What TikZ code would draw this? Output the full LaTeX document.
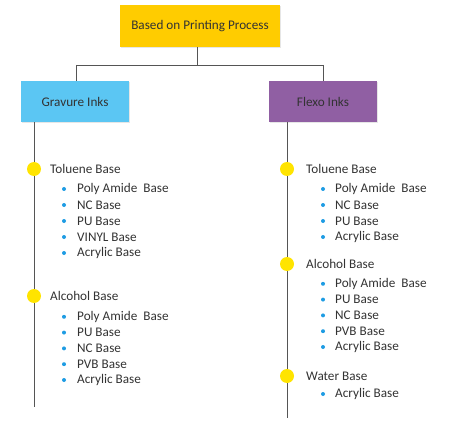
\documentclass[tikz,border=0pt]{standalone}
\usepackage{fontspec}
\setmainfont{Carlito}
\usepackage{xcolor}
\usetikzlibrary{positioning, shadows}

\definecolor{rootyellow}{HTML}{FFCC00}
\definecolor{gravblue}{HTML}{5BC6F3}
\definecolor{flexopurple}{HTML}{905FA3}
\definecolor{dotyellow}{HTML}{FFE400}
\definecolor{bulletblue}{HTML}{1E9CE3}
\definecolor{linegray}{HTML}{555555}
\definecolor{inkgray}{HTML}{333333}

\begin{document}
\begin{tikzpicture}[x=1pt, y=-1pt, font=\fontsize{13.2}{15}\selectfont,
  box/.style={minimum width=108pt, minimum height=41pt, inner sep=0pt, text=inkgray,
    drop shadow={opacity=0.2, shadow xshift=1pt, shadow yshift=-1pt}},
  link/.style={draw=linegray, line width=0.9pt},
  bigdot/.style={circle, fill=dotyellow, minimum size=14pt, inner sep=0pt},
  smalldot/.style={circle, fill=bulletblue, minimum size=4pt, inner sep=0pt},
  entry/.style={anchor=west, inner sep=0pt, text=inkgray}]
  \useasboundingbox (0,0) rectangle (450,425);

  % boxes
  \node[box, fill=rootyellow, minimum width=160pt, minimum height=42pt] (root) at (200,26) {Based on Printing Process};
  \node[box, fill=gravblue] (grav) at (75,101.5) {Gravure Inks};
  \node[box, fill=flexopurple] (flexo) at (323,101.5) {Flexo Inks};

  % tree connectors
  \coordinate (hub) at (197,65);
  \coordinate (gl) at (76,65);  \coordinate (fl) at (323,65);
  \draw[link] (root.south -| hub) -- (hub);
  \draw[link] (gl) -- (fl);
  \draw[link] (gl) -- (grav.north -| gl);
  \draw[link] (fl) -- (flexo.north);

  % timelines
  \coordinate (gend) at (34,407);
  \coordinate (fend) at (287,418);
  \draw[link] (grav.south -| gend) -- (gend);
  \draw[link] (flexo.south -| fend) -- (fend);

  % gravure column
  \node[bigdot] (gtol) at (34,169) {};
  \node[entry] (gtolt) at (50,169) {Toluene Base};
  \foreach \t [count=\i] in {Poly Amide\ \ Base, NC Base, PU Base, VINYL Base, Acrylic Base} {
    \node[smalldot] (gtb\i) at (64,173+16*\i) {};
    \node[entry] (gtt\i) at (77,173+16*\i) {\t};
  }
  \node[bigdot] (galc) at (34,296) {};
  \node[entry] (galct) at (50,296) {Alcohol Base};
  \foreach \t [count=\i] in {Poly Amide\ \ Base, PU Base, NC Base, PVB Base, Acrylic Base} {
    \node[smalldot] (gab\i) at (64,301+15.8*\i) {};
    \node[entry] (gat\i) at (77,301+15.8*\i) {\t};
  }

  % flexo column
  \node[bigdot] (ftol) at (287,169) {};
  \node[entry] (ftolt) at (306,169) {Toluene Base};
  \foreach \t [count=\i] in {Poly Amide\ \ Base, NC Base, PU Base, Acrylic Base} {
    \node[smalldot] (ftb\i) at (323,173+16*\i) {};
    \node[entry] (ftt\i) at (335,173+16*\i) {\t};
  }
  \node[bigdot] (falc) at (287,264) {};
  \node[entry] (falct) at (306,264) {Alcohol Base};
  \foreach \t [count=\i] in {Poly Amide\ \ Base, PU Base, NC Base, PVB Base, Acrylic Base} {
    \node[smalldot] (fab\i) at (323,268+15.8*\i) {};
    \node[entry] (fat\i) at (335,268+15.8*\i) {\t};
  }
  \node[bigdot] (fwat) at (287,376) {};
  \node[entry] (fwatt) at (306,376) {Water Base};
  \node[smalldot] (fwb1) at (323,394) {};
  \node[entry] (fwt1) at (335,394) {Acrylic Base};
\end{tikzpicture}
\end{document}
